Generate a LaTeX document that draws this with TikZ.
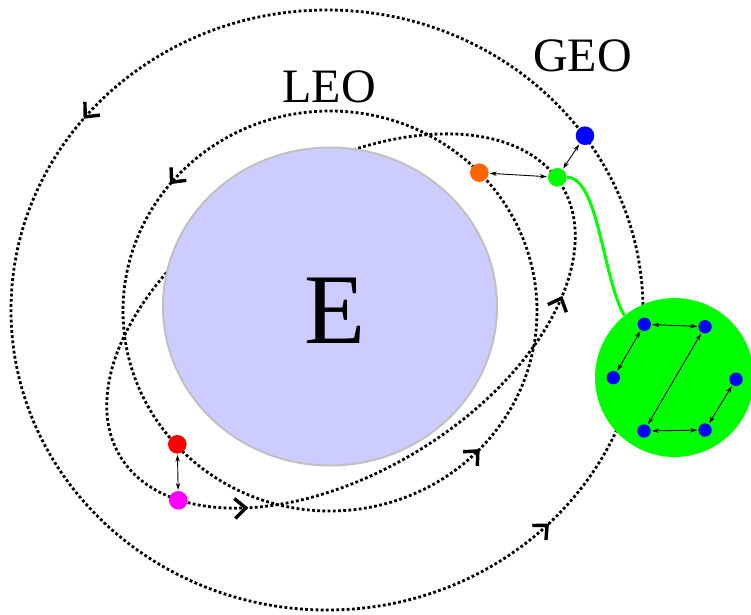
\documentclass[tikz,border=0pt]{standalone}
\usepackage{fontspec}
\setmainfont{Liberation Serif}
\usetikzlibrary{arrows.meta,decorations.markings,shapes.geometric}
\definecolor{earthfill}{HTML}{CCCCFF}
\definecolor{earthline}{HTML}{C0C0C0}
\definecolor{satorange}{HTML}{FF6600}
\definecolor{satpink}{HTML}{FF00FF}

\begin{document}
\begin{tikzpicture}[
      x=1pt,y=1pt,
      orbit/.style={line width=2.8pt,dash pattern=on 2.8pt off 2.4pt},
      flow/.style 2 args={postaction={decorate,solid},decoration={markings,
        mark=at position #1 with {\arrow{Straight Barb[length=11pt,width=20pt,line width=3.4pt]}},
        mark=at position #2 with {\arrow{Straight Barb[length=11pt,width=20pt,line width=3.4pt]}}}},
      planet/.style={ellipse,draw=earthline,fill=earthfill,line width=2pt,
        minimum width=334pt,minimum height=318pt,inner sep=0pt},
      sat/.style={circle,inner sep=0pt,minimum size=18.6pt},
      peer/.style={circle,fill=blue,inner sep=0pt,minimum size=13.4pt},
      rel/.style={{Stealth[length=7pt,width=4.5pt]}-{Stealth[length=7pt,width=4.5pt]},line width=0.9pt,shorten >=1pt,shorten <=1pt},
      link/.style={green,line width=3pt},
      lbl/.style={font=\fontsize{48}{56}\selectfont}
    ]
    \useasboundingbox (0,0) rectangle (751,-614);

    % orbits
    \draw[orbit,flow={0.392}{0.876}] (327,-310) ellipse [x radius=316,y radius=300];
    \draw[orbit,flow={0.392}{0.88}] (330,-311) ellipse [x radius=207,y radius=200];
    \draw[orbit,flow={0.61}{0.912},rotate around={31.7:(341,-321)}] (341,-321) ellipse [x radius=259,y radius=151];

    \node[planet] (earth) at (330,-306.5) {};
    \node[font=\fontsize{100}{110}\selectfont] (elbl) at (335,-311) {E};
    \node[lbl] (leo) at (329,-87) {LEO};
    \node[lbl] (geo) at (582.5,-55.5) {GEO};

    % satellites
    \node[sat,fill=satorange] (odot) at (479.3,-172.7) {};
    \node[sat,fill=green] (gdot) at (557.3,-177.3) {};
    \node[sat,fill=blue] (bdot) at (585,-135.7) {};
    \node[sat,fill=red] (rdot) at (177.3,-444.3) {};
    \node[sat,fill=satpink] (mdot) at (178.3,-500.3) {};
    \draw[rel] (odot) -- (gdot);
    \draw[rel] (gdot) -- (bdot);
    \draw[rel] (rdot) -- (mdot);

    % swarm
    \node[circle,fill=green,minimum size=159pt,inner sep=0pt] (swarm) at (674.5,-377.5) {};
    \draw[link] (gdot.east) .. controls +(32,0) and +(-22,38) .. (swarm.129);
    \foreach \n/\x/\y in {p1/644.3/324.3,p2/705/326.7,p3/613.3/377.7,p4/736/379.3,p5/644/431,p6/705/430}
      \node[peer] (\n) at (\x,-\y) {};
    \draw[rel] (p1) -- (p2);
    \draw[rel] (p1) -- (p3);
    \draw[rel] (p2) -- (p5);
    \draw[rel] (p5) -- (p6);
    \draw[rel] (p6) -- (p4);
  \end{tikzpicture}
\end{document}
